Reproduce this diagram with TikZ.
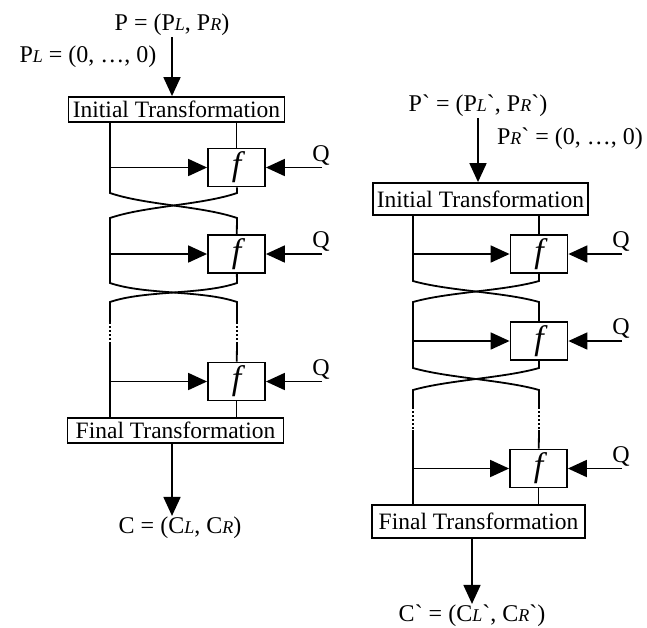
\documentclass[tikz,border=0pt]{standalone}
\usepackage{fontspec}
\setmainfont{Liberation Serif}
\usepackage{tikz}
\usetikzlibrary{arrows.meta, positioning}
\newcommand{\idx}[1]{{\fontsize{18}{18}\selectfont\itshape #1}}
\newcommand{\tick}{\textasciigrave}

\begin{document}
\begin{tikzpicture}[x=1pt, y=-1pt,
    trans/.style={rectangle, draw, line width=1.8pt, minimum width=216pt, minimum height=25pt,
                  inner sep=1pt, font=\fontsize{23.5}{25}\selectfont},
    fbox/.style={rectangle, draw, line width=1.8pt, minimum width=57pt, minimum height=38pt,
                 inner sep=0pt, font=\fontsize{34}{34}\selectfont\itshape},
    lbl/.style={inner sep=1pt, font=\fontsize{24}{26}\selectfont},
    wire/.style={line width=1.8pt},
    flow/.style={line width=1.8pt, -{Triangle[length=19pt, width=17pt]}},
    dots/.style={line width=1.8pt, dash pattern=on 1.5pt off 2.5pt}
]
\useasboundingbox (0,0) rectangle (647,627);

% left: P_L set to zero
\node[lbl] (pA) at (172,25) {P = (P\idx{L}, P\idx{R})};
\node[lbl] (zA) at (88,57) {P\idx{L} = (0, \ldots, 0)};
\node[trans] (initA) at (176.5,109.5) {Initial Transformation};
\node[fbox] (fA1) at (236.5,167.5) {f};
\node[fbox] (fA2) at (236.5,254) {f};
\node[fbox] (fA3) at (236.5,381.5) {f};
\node[trans] (finA) at (175.5,430.5) {Final Transformation};
\node[lbl] (cA) at (180,528) {C = (C\idx{L}, C\idx{R})};

\coordinate (ltA1) at (110,193);  \coordinate (rtA1) at (237,193);
\coordinate (lbA1) at (110,218);  \coordinate (rbA1) at (237,218);
\coordinate (ltA2) at (110,283);  \coordinate (rtA2) at (237,283);
\coordinate (lbA2) at (110,302);  \coordinate (rbA2) at (237,302);
\coordinate (lsA) at (110,322);   \coordinate (rsA) at (237,322);
\coordinate (ldA) at (110,343);   \coordinate (rdA) at (237,343);

\draw[flow] (pA) -- (pA |- initA.north);
\draw[wire] (initA.south -| ltA1) -- (ltA1) .. controls +(35,12) and +(-35,-12) .. (rbA1) -- (fA2);
\draw[wire] (initA.south -| fA1) -- (fA1);
\draw[wire] (fA1) -- (rtA1) .. controls +(-35,12) and +(35,-12) .. (lbA1) -- (ltA2)
            .. controls +(35,12) and +(-35,-12) .. (rbA2) -- (rsA);
\draw[wire] (fA2) -- (rtA2) .. controls +(-35,12) and +(35,-12) .. (lbA2) -- (lsA);
\draw[dots] (lsA) -- (ldA);
\draw[dots] (rsA) -- (rdA);
\draw[wire] (ldA) -- (finA.north -| ldA);
\draw[wire] (rdA) -- (fA3);
\draw[wire] (fA3) -- (finA.north -| fA3);
\foreach \f in {fA1, fA2, fA3} {
  \draw[flow] (\f -| ltA1) -- (\f.west);
  \coordinate (q\f) at (\f -| 322,0);
  \draw[flow] (q\f) -- (\f.east);
  \node[lbl, above left=1pt and -9pt of q\f] (Q\f) {Q};
}
\draw[flow] (finA.south -| pA) -- (cA.north -| pA);

% right: P_R set to zero
\node[lbl] (pB) at (478,106) {P\tick{} = (P\idx{L}\tick, P\idx{R}\tick)};
\node[lbl] (zB) at (570,139) {P\idx{R}\tick{} = (0, \ldots, 0)};
\node[trans, minimum height=32pt, minimum width=215pt] (initB) at (480.5,199) {Initial Transformation};
\node[fbox] (fB1) at (539,254) {f};
\node[fbox] (fB2) at (539,341) {f};
\node[fbox] (fB3) at (538.5,468.5) {f};
\node[trans, minimum height=33pt, minimum width=213pt] (finB) at (478.5,521.5) {Final Transformation};
\node[lbl] (cB) at (472,616) {C\tick{} = (C\idx{L}\tick, C\idx{R}\tick)};

\coordinate (ltB1) at (413,281);  \coordinate (rtB1) at (539,281);
\coordinate (lbB1) at (413,302);  \coordinate (rbB1) at (539,302);
\coordinate (ltB2) at (413,368);  \coordinate (rtB2) at (539,368);
\coordinate (lbB2) at (413,390);  \coordinate (rbB2) at (539,390);
\coordinate (lsB) at (413,407);   \coordinate (rsB) at (539,407);
\coordinate (ldB) at (413,430);   \coordinate (rdB) at (539,430);

\draw[flow] (pB) -- (pB |- initB.north);
\draw[wire] (initB.south -| ltB1) -- (ltB1) .. controls +(35,10) and +(-35,-10) .. (rbB1) -- (fB2);
\draw[wire] (initB.south -| fB1) -- (fB1);
\draw[wire] (fB1) -- (rtB1) .. controls +(-35,10) and +(35,-10) .. (lbB1) -- (ltB2)
            .. controls +(35,10) and +(-35,-10) .. (rbB2) -- (rsB);
\draw[wire] (fB2) -- (rtB2) .. controls +(-35,10) and +(35,-10) .. (lbB2) -- (lsB);
\draw[dots] (lsB) -- (ldB);
\draw[dots] (rsB) -- (rdB);
\draw[wire] (ldB) -- (finB.north -| ldB);
\draw[wire] (rdB) -- (fB3);
\draw[wire] (fB3) -- (finB.north -| fB3);
\foreach \f in {fB1, fB2, fB3} {
  \draw[flow] (\f -| ltB1) -- (\f.west);
  \coordinate (q\f) at (\f -| 622,0);
  \draw[flow] (q\f) -- (\f.east);
  \node[lbl, above left=1pt and -9pt of q\f] (Q\f) {Q};
}
\draw[flow] (finB.south -| cB) -- (cB);
\end{tikzpicture}
\end{document}
